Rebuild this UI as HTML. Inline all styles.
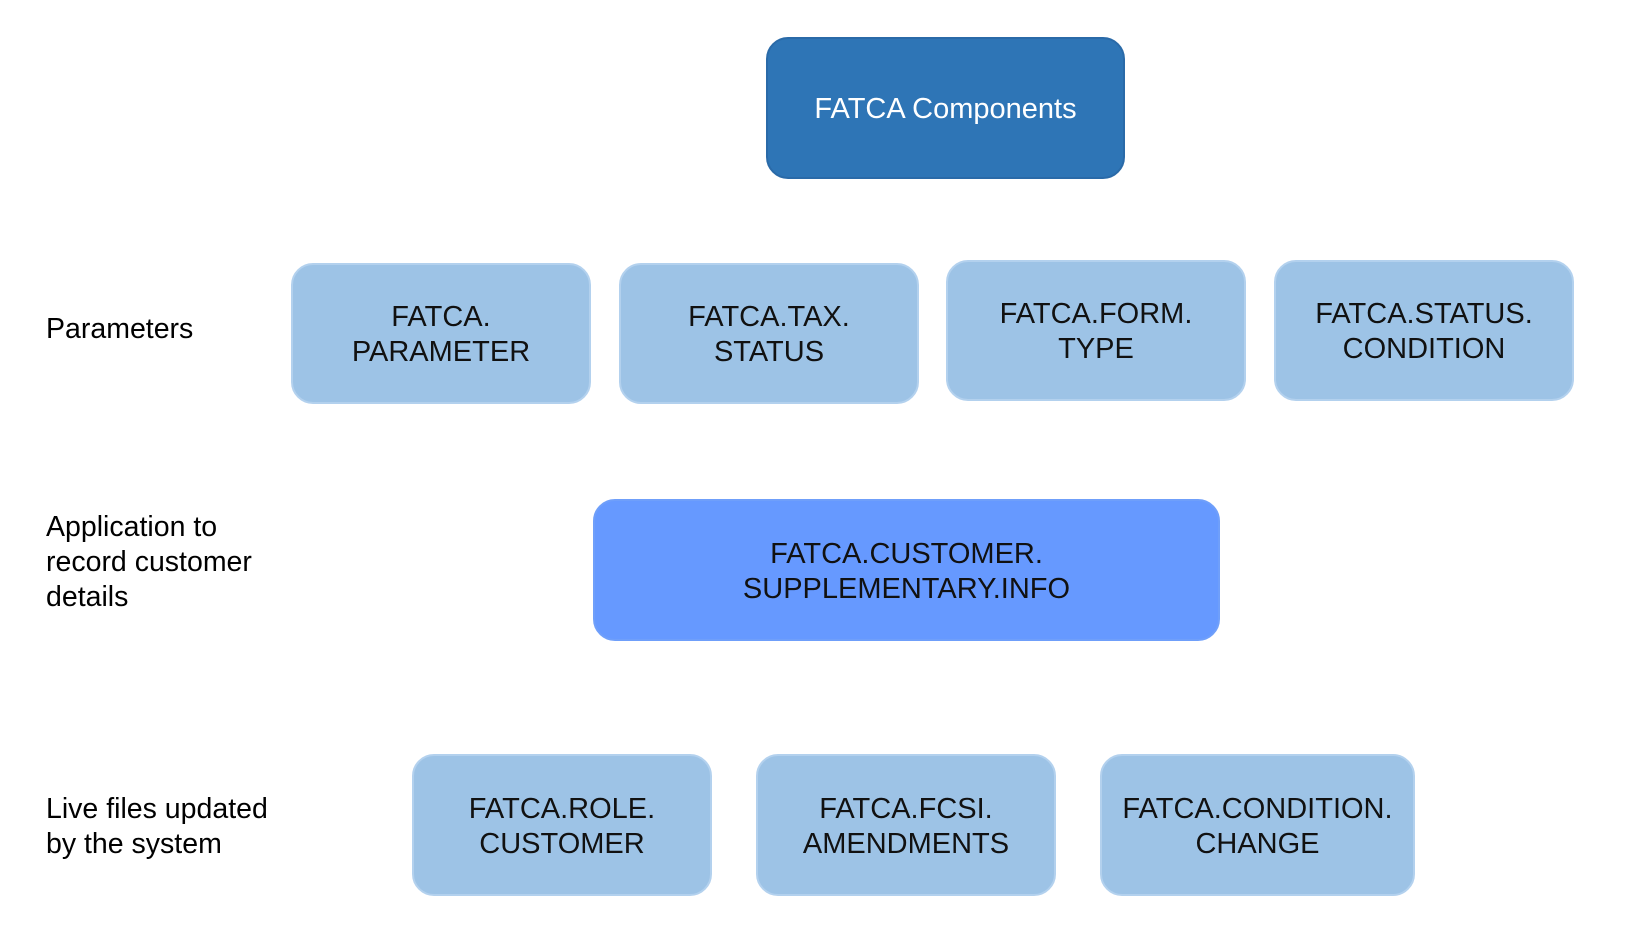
<!DOCTYPE html>
<html><head><style>
body{margin:0;width:1647px;height:934px;background:#fff;position:relative;overflow:hidden;font-family:"Liberation Sans",Arial,sans-serif;}
.b{position:absolute;box-sizing:border-box;border-radius:22px;display:flex;align-items:center;justify-content:center;text-align:center;font-size:29px;line-height:35px;color:#111;background:#9dc3e6;border:2px solid #b3d1ee;padding-top:3px;}
.t{position:absolute;left:46px;font-size:28.5px;line-height:35px;color:#000;}
</style></head><body>
<div class="b" style="left:766px;top:37px;width:359px;height:142px;background:#2e75b6;border-color:#2a6aa8;color:#fff;">FATCA Components</div>
<div class="t" style="top:312px">Parameters</div>
<div class="b" style="left:291px;top:263px;width:300px;height:141px">FATCA.<br>PARAMETER</div>
<div class="b" style="left:619px;top:263px;width:300px;height:141px">FATCA.TAX.<br>STATUS</div>
<div class="b" style="left:946px;top:260px;width:300px;height:141px">FATCA.FORM.<br>TYPE</div>
<div class="b" style="left:1274px;top:260px;width:300px;height:141px">FATCA.STATUS.<br>CONDITION</div>
<div class="t" style="top:510px">Application to<br>record customer<br>details</div>
<div class="b" style="left:593px;top:499px;width:627px;height:142px;background:#6699ff;border-color:#6f9ffa;">FATCA.CUSTOMER.<br>SUPPLEMENTARY.INFO</div>
<div class="t" style="top:792px">Live files updated<br>by the system</div>
<div class="b" style="left:412px;top:754px;width:300px;height:142px">FATCA.ROLE.<br>CUSTOMER</div>
<div class="b" style="left:756px;top:754px;width:300px;height:142px">FATCA.FCSI.<br>AMENDMENTS</div>
<div class="b" style="left:1100px;top:754px;width:315px;height:142px">FATCA.CONDITION.<br>CHANGE</div>
</body></html>
